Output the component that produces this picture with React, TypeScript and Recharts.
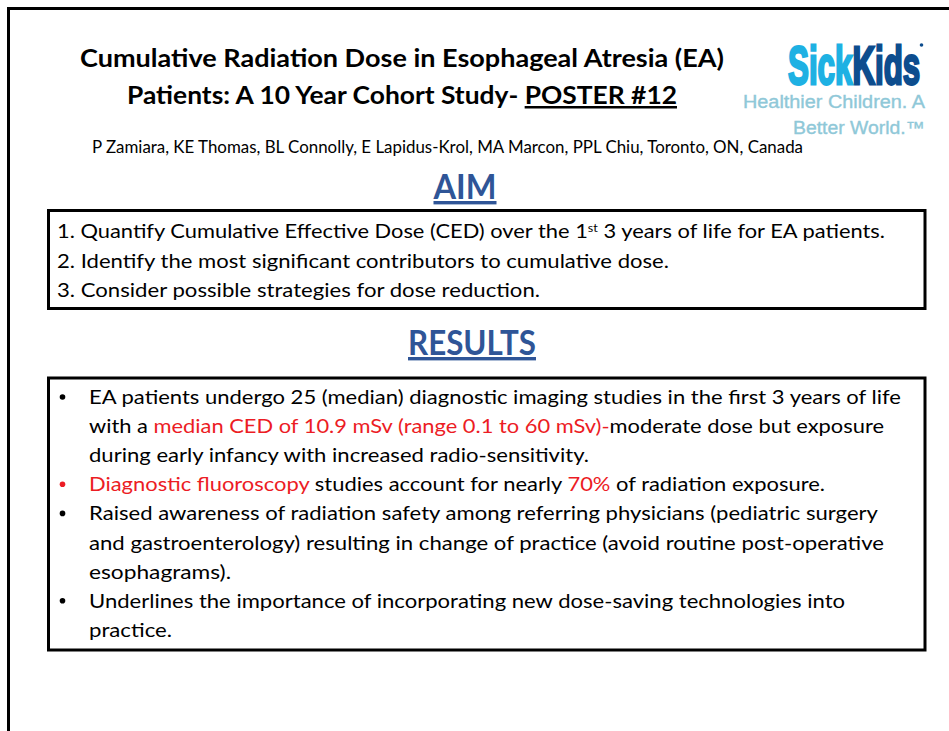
import React from "react";
import { Surface, Layer } from "recharts";

type Seg = { t: string; red?: boolean; sup?: boolean };

const titleLines = ["Cumulative Radiation Dose in Esophageal Atresia (EA)", "Patients: A 10 Year Cohort Study- "];
const posterTag = "POSTER #12";
const authors = "P Zamiara, KE Thomas, BL Connolly, E Lapidus-Krol, MA Marcon, PPL Chiu, Toronto, ON, Canada";
const logoWords = ["Sick", "Kids"];
const tagline = ["Healthier Children. A", "Better World.\u2122"];
const headings = ["AIM", "RESULTS"];

const aimItems: Seg[][] = [
    [{ t: "1. Quantify Cumulative Effective Dose (CED) over the 1" }, { t: "st", sup: true }, { t: " 3 years of life for  EA patients." }],
    [{ t: "2. Identify the most significant contributors to cumulative dose." }],
    [{ t: "3. Consider possible strategies for dose reduction." }],
];

// bullet: 0 none, 1 black, 2 red
const resultLines: { bullet: number; segs: Seg[] }[] = [
    { bullet: 1, segs: [{ t: "EA patients undergo 25 (median) diagnostic imaging studies in the first 3 years of life" }] },
    { bullet: 0, segs: [{ t: "with a " }, { t: "median CED of 10.9 mSv (range 0.1 to 60 mSv)-", red: true }, { t: "moderate dose but exposure" }] },
    { bullet: 0, segs: [{ t: "during early infancy with increased radio-sensitivity." }] },
    { bullet: 2, segs: [{ t: "Diagnostic fluoroscopy", red: true }, { t: " studies account for nearly " }, { t: "70%", red: true }, { t: " of radiation exposure." }] },
    { bullet: 1, segs: [{ t: "Raised awareness of radiation safety among referring physicians (pediatric surgery" }] },
    { bullet: 0, segs: [{ t: "and gastroenterology) resulting in change of practice (avoid routine post-operative" }] },
    { bullet: 0, segs: [{ t: "esophagrams)." }] },
    { bullet: 1, segs: [{ t: "Underlines the importance of incorporating new dose-saving technologies into" }] },
    { bullet: 0, segs: [{ t: "practice." }] },
];

// layout (measured from the slide)
const aimWidths = [828, 612, 483];
const resultWidths = [812, 795, 500, 736, 789, 795, 142, 756, 83];
const RED = "#ec1c24";
const FONT = "Lato, 'Noto Sans', sans-serif";
const ARIAL = "'Liberation Sans', Arial, sans-serif";

const segs = (list: Seg[]) =>
    list.map((s, i) => (
        <tspan
            key={i}
            fill={s.red ? RED : "#000"}
            fontSize={s.sup ? 11 : undefined}
            baselineShift={s.sup ? "super" : undefined}
        >
            {s.t}
        </tspan>
    ));

const App: React.FC = () => {
    return (
        <div style={{ position: "absolute", left: 0, top: 0, width: 949, height: 731, background: "#fff" }}>
            <Surface width={949} height={731} viewBox={{ x: 0, y: 0, width: 949, height: 731 }}>
                {/* slide frame */}
                <path d="M8.5 760 L8.5 8.5 L970 8.5" fill="none" stroke="#000" strokeWidth={3} />

                {/* title */}
                <Layer>
                    <text x={80} y={67} fontFamily={FONT} fontWeight={700} fontSize={25} textLength={644} lengthAdjust="spacingAndGlyphs">
                        {titleLines[0]}
                    </text>
                    <text x={127} y={104} fontFamily={FONT} fontWeight={700} fontSize={25} textLength={550} lengthAdjust="spacingAndGlyphs">
                        {titleLines[1]}
                        <tspan textDecoration="underline">{posterTag}</tspan>
                    </text>
                </Layer>

                {/* logo: condensed by a horizontal scale */}
                <Layer>
                    <g transform="translate(788 84) scale(0.58 1)">
                        <text x={0} y={0} fontFamily={ARIAL} fontWeight={700} fontSize={54} strokeWidth={2.8}>
                            <tspan fill="#1eb1e3" stroke="#1eb1e3">{logoWords[0]}</tspan>
                            <tspan fill="#0d4d8e" stroke="#0d4d8e">{logoWords[1]}</tspan>
                        </text>
                    </g>
                    <circle cx={921.5} cy={45} r={1.8} fill="#0d4d8e" />
                    <text x={925} y={108} textAnchor="end" fontFamily={ARIAL} fontSize={17.5} fill="#8fc8d8" stroke="#8fc8d8" strokeWidth={0.35} textLength={182} lengthAdjust="spacingAndGlyphs">
                        {tagline[0]}
                    </text>
                    <text x={925} y={134} textAnchor="end" fontFamily={ARIAL} fontSize={17.5} fill="#8fc8d8" stroke="#8fc8d8" strokeWidth={0.35} textLength={132} lengthAdjust="spacingAndGlyphs">
                        {tagline[1]}
                    </text>
                </Layer>

                {/* authors */}
                <text x={92} y={153} fontFamily={FONT} fontSize={16.5} textLength={711} lengthAdjust="spacingAndGlyphs">
                    {authors}
                </text>

                {/* AIM */}
                <text x={465} y={199} textAnchor="middle" fontFamily={FONT} fontWeight={700} fontSize={34} fill="#2f5597" textDecoration="underline" textLength={63} lengthAdjust="spacingAndGlyphs">
                    {headings[0]}
                </text>
                <rect x={48.5} y={210.5} width={876.5} height={98} fill="none" stroke="#000" strokeWidth={3} />
                {aimItems.map((item, i) => (
                    <text key={i} x={57} y={238 + i * 29.5} fontFamily={FONT} fontSize={19} textLength={aimWidths[i]} lengthAdjust="spacingAndGlyphs">
                        {segs(item)}
                    </text>
                ))}

                {/* RESULTS */}
                <text x={472} y={355} textAnchor="middle" fontFamily={FONT} fontWeight={700} fontSize={34} fill="#2f5597" textDecoration="underline" textLength={128} lengthAdjust="spacingAndGlyphs">
                    {headings[1]}
                </text>
                <rect x={48.5} y={378} width={876.5} height={272} fill="none" stroke="#000" strokeWidth={3} />
                {resultLines.map((line, i) => {
                    const y = 404 + i * 29.1;
                    return (
                        <Layer key={i}>
                            {line.bullet > 0 && <circle cx={62.5} cy={y - 7} r={2.8} fill={line.bullet === 2 ? RED : "#000"} />}
                            <text x={89} y={y} fontFamily={FONT} fontSize={19} textLength={resultWidths[i]} lengthAdjust="spacingAndGlyphs">
                                {segs(line.segs)}
                            </text>
                        </Layer>
                    );
                })}
            </Surface>
        </div>
    );
};

export default App;
